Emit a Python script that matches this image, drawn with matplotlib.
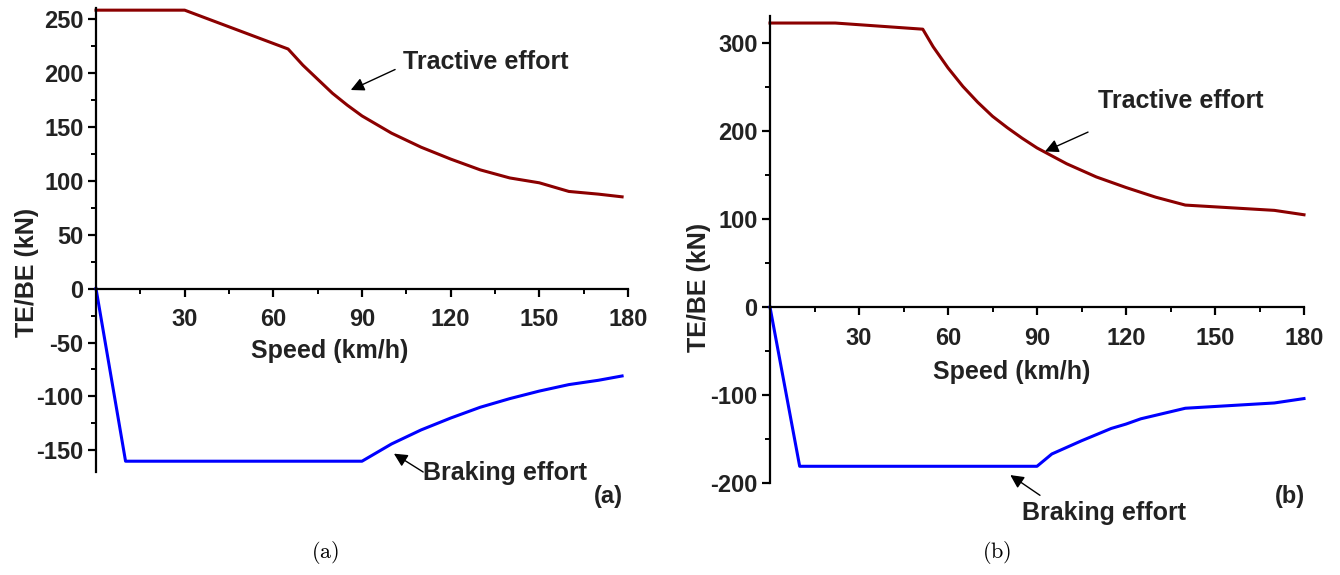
import matplotlib
matplotlib.use('Agg')
import matplotlib.pyplot as plt
from matplotlib import font_manager
from matplotlib.ticker import MultipleLocator

# --- data ---
# panel (a)
te_a_speed = [0, 30, 65, 70, 75, 80, 85, 90, 100, 110, 120, 130, 140, 150, 160, 170, 178]
te_a_force = [258, 258, 222, 207, 194, 181, 170, 160, 144, 131, 120, 110, 102.5, 98, 90, 87.5, 85]
be_a_speed = [0, 10, 90, 100, 110, 120, 130, 140, 150, 160, 170, 178]
be_a_force = [0, -160, -160, -144, -131, -120, -110, -102, -95, -89, -85, -81]

# panel (b)
te_b_speed = [0, 22, 51.5, 55, 60, 65, 70, 75, 80, 85, 90, 95, 100, 110, 120, 130, 140, 170, 180]
te_b_force = [323, 323, 316, 296, 272, 251, 233, 217, 204, 192, 181, 172, 163, 148, 136, 125, 116, 110, 105]
be_b_speed = [0, 10, 90, 95, 105, 115, 120, 125, 140, 170, 180]
be_b_force = [0, -181, -181, -167, -152, -138, -133, -127, -115, -109, -104]

x_ticks = [30, 60, 90, 120, 150, 180]

names = {f.name for f in font_manager.fontManager.ttflist}
fam = 'Liberation Sans' if 'Liberation Sans' in names else 'DejaVu Sans'
plt.rcParams['font.family'] = [fam, 'DejaVu Sans']
plt.rcParams['mathtext.fontset'] = 'cm'
plt.rcParams['axes.unicode_minus'] = False

txt_col = '#222222'
te_col = '#8B0000'
be_col = '#0000FF'
fs = 18

W, H = 1340, 575
fig = plt.figure(figsize=(13.4, 5.75), dpi=100)


def px_axes(x0, x1, ytop, ybot):
    return fig.add_axes([x0 / W, 1 - ybot / H, (x1 - x0) / W, (ybot - ytop) / H])


def style(ax, ylim, ymajor, yminor):
    ax.set_xlim(0, 180)
    ax.set_ylim(*ylim)
    for s in ['top', 'right']:
        ax.spines[s].set_visible(False)
    ax.spines['bottom'].set_position(('data', 0))
    for s in ['left', 'bottom']:
        ax.spines[s].set_linewidth(1.6)
    ax.set_xticks(x_ticks)
    ax.xaxis.set_minor_locator(MultipleLocator(15))
    ax.yaxis.set_major_locator(MultipleLocator(ymajor))
    ax.yaxis.set_minor_locator(MultipleLocator(yminor))
    ax.tick_params(axis='both', which='major', length=6, width=1.6,
                   labelsize=17, labelcolor=txt_col, direction='out')
    ax.tick_params(axis='both', which='minor', length=3.5, width=1.4, direction='out')
    ax.tick_params(axis='x', which='major', pad=8)
    ax.tick_params(axis='y', which='major', pad=3)
    for lab in ax.get_xticklabels() + ax.get_yticklabels():
        lab.set_fontweight('bold')
    ax.patch.set_alpha(0)


def pointer(ax, head, tail):
    ax.annotate('', xy=head, xytext=tail, annotation_clip=False,
                arrowprops=dict(arrowstyle='-|>', color='black', lw=1,
                                mutation_scale=20, shrinkA=0, shrinkB=0))


def label(ax, x, y, s):
    ax.text(x, y, s, ha='left', va='center', fontsize=fs, fontweight='bold',
            color=txt_col, clip_on=False)


# ---------------- panel (a) ----------------
ax1 = px_axes(96, 628, 8, 472)
style(ax1, (-170, 260), 50, 25)
ax1.plot(te_a_speed, te_a_force, color=te_col, lw=2.2, clip_on=False)
ax1.plot(be_a_speed, be_a_force, color=be_col, lw=2.2, clip_on=False)
ax1.text(79, -58, 'Speed (km/h)', ha='center', va='center', fontsize=fs,
         fontweight='bold', color=txt_col)
pointer(ax1, (86.2, 184), (101.2, 203))
label(ax1, 104, 210, 'Tractive effort')
pointer(ax1, (100.8, -153), (110.7, -170))
label(ax1, 110.5, -171, 'Braking effort')
fig.text(27 / W, 1 - 272 / H, 'TE/BE (kN)', rotation=90, ha='center', va='center',
         fontsize=fs, fontweight='bold', color=txt_col)
fig.text(608 / W, 1 - 496 / H, '(a)', ha='center', va='center', fontsize=17,
         fontweight='bold', color=txt_col)
fig.text(325 / W, 1 - 552 / H, r'$\mathrm{(a)}$', ha='center', va='center', fontsize=16)

# ---------------- panel (b) ----------------
ax2 = px_axes(770, 1304, 16, 483)
style(ax2, (-200, 331), 100, 50)
ax2.plot(te_b_speed, te_b_force, color=te_col, lw=2.2, clip_on=False)
ax2.plot(be_b_speed, be_b_force, color=be_col, lw=2.2, clip_on=False)
ax2.text(81.5, -74, 'Speed (km/h)', ha='center', va='center', fontsize=fs,
         fontweight='bold', color=txt_col)
pointer(ax2, (92.7, 177), (107.2, 199))
label(ax2, 110.5, 234, 'Tractive effort')
pointer(ax2, (81, -191), (91, -214))
label(ax2, 85, -234, 'Braking effort')
fig.text(699 / W, 1 - 287 / H, 'TE/BE (kN)', rotation=90, ha='center', va='center',
         fontsize=fs, fontweight='bold', color=txt_col)
fig.text(1290 / W, 1 - 496 / H, '(b)', ha='center', va='center', fontsize=17,
         fontweight='bold', color=txt_col)
fig.text(997 / W, 1 - 552 / H, r'$\mathrm{(b)}$', ha='center', va='center', fontsize=16)

fig.savefig('out.png', dpi=100)
